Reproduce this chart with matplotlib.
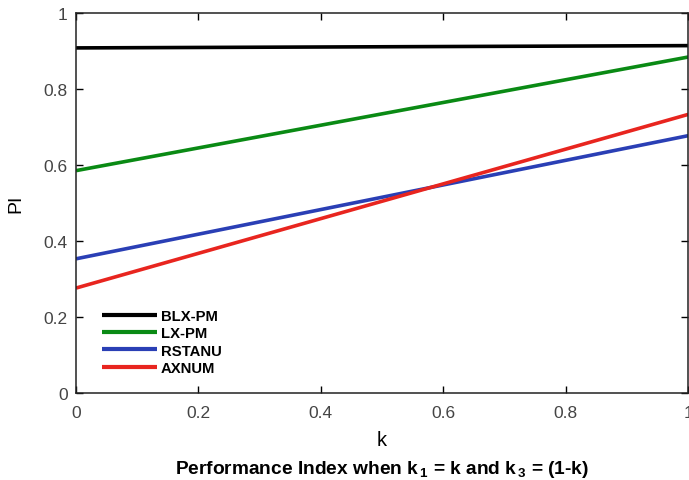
import matplotlib
matplotlib.use("Agg")
import matplotlib.pyplot as plt
import numpy as np

plt.rcParams['font.family'] = ['Liberation Sans', 'DejaVu Sans']

k = [0.0, 1.0]
series_names = ["BLX-PM", "LX-PM", "RSTANU", "AXNUM"]
blx_pm = [0.908, 0.914]
lx_pm = [0.585, 0.884]
rstanu = [0.353, 0.677]
axnum = [0.276, 0.733]
colors = ["#000000", "#0a8a14", "#2a3fb5", "#e8251f"]
xticks = [0, 0.2, 0.4, 0.6, 0.8, 1]
yticks = [0, 0.2, 0.4, 0.6, 0.8, 1]

fig = plt.figure(figsize=(6.89, 4.81), dpi=100)
ax = fig.add_axes([0.1103, 0.181, 0.8885, 0.790])

for vals, name, c in zip([blx_pm, lx_pm, rstanu, axnum], series_names, colors):
    ax.plot(k, vals, color=c, lw=2.6, label=name, solid_capstyle='butt')

ax.set_xlim(0, 1)
ax.set_ylim(0, 1)
ax.set_xticks(xticks)
ax.set_yticks(yticks)
ax.set_xticklabels([f"{t:g}" for t in xticks])
ax.set_yticklabels([f"{t:g}" for t in yticks])
ax.tick_params(direction='in', top=True, right=True, length=5, width=1,
               labelsize=12.5, labelcolor='#444444')
ax.tick_params(axis='x', pad=9)
ax.tick_params(axis='y', pad=6)
for s in ax.spines.values():
    s.set_linewidth(1.1)
    s.set_color('#222222')

ax.set_ylabel("PI", fontsize=14, labelpad=14)
ax.set_xlabel("k", fontsize=14.5, labelpad=7)
fig.text(0.554, 0.0146, r"Performance Index when k$_{\mathregular{\,1}}$ = k and k$_{\mathregular{\,3}}$ = (1-k)",
         ha='center', va='baseline', fontsize=13.8, fontweight='bold')

leg = ax.legend(loc='lower left', bbox_to_anchor=(0.02, 0.012), frameon=False,
                prop={'weight': 'bold', 'size': 10.7}, handlelength=3.7,
                handletextpad=0.3, labelspacing=0.23)
for line in leg.get_lines():
    line.set_linewidth(3.0)

fig.savefig("out.png", dpi=100)
